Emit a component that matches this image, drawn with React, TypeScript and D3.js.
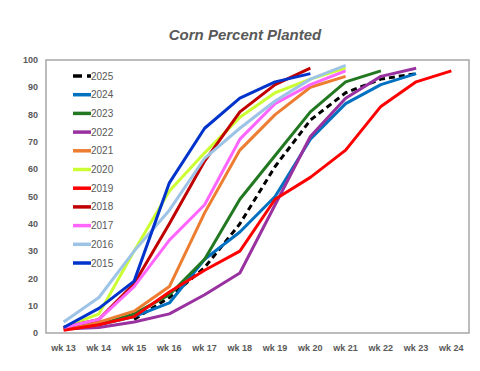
import React, { useEffect, useRef } from 'react';
import * as d3 from 'd3';

const weeks = ['wk 13', 'wk 14', 'wk 15', 'wk 16', 'wk 17', 'wk 18', 'wk 19', 'wk 20', 'wk 21', 'wk 22', 'wk 23', 'wk 24'];
const yTicks = [0, 10, 20, 30, 40, 50, 60, 70, 80, 90, 100];

// values start at wk 13 unless an offset is given (null = no point)
const y2025 = [null, null, 5, 13, 24, 40, 61, 78, 88, 93, 95];
const y2024 = [2, 3, 6, 11, 27, 37, 50, 71, 84, 91, 95];
const y2023 = [2, 3, 7, 14, 27, 49, 65, 81, 92, 96];
const y2022 = [1.5, 2, 4, 7, 14, 22, 47, 72, 86, 94, 97];
const y2021 = [2, 4, 8, 17, 44, 67, 80, 90, 94];
const y2020 = [2, 7, 30, 52, 66, 79, 88, 93, 97];
const y2019 = [1, 3, 6, 15, 23, 30, 49, 57, 67, 83, 92, 96];
const y2018 = [2, 5, 18, 40, 63, 81, 91, 97];
const y2017 = [2, 5, 17, 34, 47, 71, 84, 91, 96];
const y2016 = [4, 13, 30, 45, 64, 75, 85, 93, 98];
const y2015 = [2, 9, 19, 55, 75, 86, 92, 95];

const seriesNames = ['2025', '2024', '2023', '2022', '2021', '2020', '2019', '2018', '2017', '2016', '2015'];
const seriesValues = [y2025, y2024, y2023, y2022, y2021, y2020, y2019, y2018, y2017, y2016, y2015];
const seriesColors = ['#000000', '#0070C0', '#217821', '#9932A0', '#ED7D31', '#CCFF33', '#FF0000', '#C00000', '#FF66FF', '#9DC3E6', '#0033CC'];

export default function App() {
  const ref = useRef<SVGSVGElement>(null);

  useEffect(() => {
    if (!ref.current) return;
    const svg = d3.select(ref.current);
    svg.selectAll('*').remove();

    const left = 46, right = 469, top = 60, bottom = 333;
    const x = d3.scalePoint<string>().domain(weeks).range([left, right]).padding(0.5);
    const y = d3.scaleLinear().domain([0, 100]).range([bottom, top]);
    const font = 'Liberation Sans, Arial, sans-serif';

    svg.append('rect').attr('width', 480).attr('height', 371).attr('fill', '#fff');

    // title
    svg.append('text')
      .attr('x', 245).attr('y', 40)
      .attr('text-anchor', 'middle')
      .attr('font-family', font)
      .attr('font-size', 15)
      .attr('font-weight', 'bold')
      .attr('font-style', 'italic')
      .attr('fill', '#595959')
      .text('Corn Percent Planted');

    // frame
    svg.append('rect')
      .attr('x', left).attr('y', top)
      .attr('width', right - left).attr('height', bottom - top)
      .attr('fill', 'none').attr('stroke', '#a6a6a6').attr('stroke-width', 1.5);

    // y tick labels
    svg.append('g').selectAll('text').data(yTicks).enter().append('text')
      .attr('x', 38).attr('y', d => y(d)).attr('dy', '0.35em')
      .attr('text-anchor', 'end')
      .attr('font-family', font).attr('font-size', 9).attr('font-weight', 'bold')
      .attr('fill', '#595959')
      .text(d => d);

    // x tick labels
    svg.append('g').selectAll('text').data(weeks).enter().append('text')
      .attr('x', d => x(d)!).attr('y', 348).attr('dy', '0.35em')
      .attr('text-anchor', 'middle')
      .attr('font-family', font).attr('font-size', 9).attr('font-weight', 'bold')
      .attr('fill', '#595959')
      .text(d => d);

    const line = d3.line<[string, number | null]>()
      .defined(d => d[1] != null)
      .x(d => x(d[0])!)
      .y(d => y(d[1] as number));

    // draw 2015 last? keep 2025 under the others like the reference
    const order = seriesNames.map((_, i) => i);
    order.forEach(i => {
      const pts = seriesValues[i].map((v, j) => [weeks[j], v] as [string, number | null]);
      svg.append('path')
        .attr('d', line(pts))
        .attr('fill', 'none')
        .attr('stroke', seriesColors[i])
        .attr('stroke-width', 3)
        .attr('stroke-linejoin', 'round')
        .attr('stroke-dasharray', i === 0 ? '6,4' : null);
    });

    // legend
    const lg = svg.append('g');
    seriesNames.forEach((name, i) => {
      const ly = 76 + i * 18.7;
      lg.append('line')
        .attr('x1', 73).attr('x2', 91).attr('y1', ly).attr('y2', ly)
        .attr('stroke', seriesColors[i]).attr('stroke-width', 3.5)
        .attr('stroke-dasharray', i === 0 ? '9,5' : null);
      lg.append('text')
        .attr('x', 91).attr('y', ly).attr('dy', '0.35em')
        .attr('font-family', font).attr('font-size', 10)
        .attr('fill', '#595959')
        .text(name);
    });
  }, []);

  return <svg ref={ref} width={480} height={371} style={{ display: 'block', margin: -8 }} />;
}
